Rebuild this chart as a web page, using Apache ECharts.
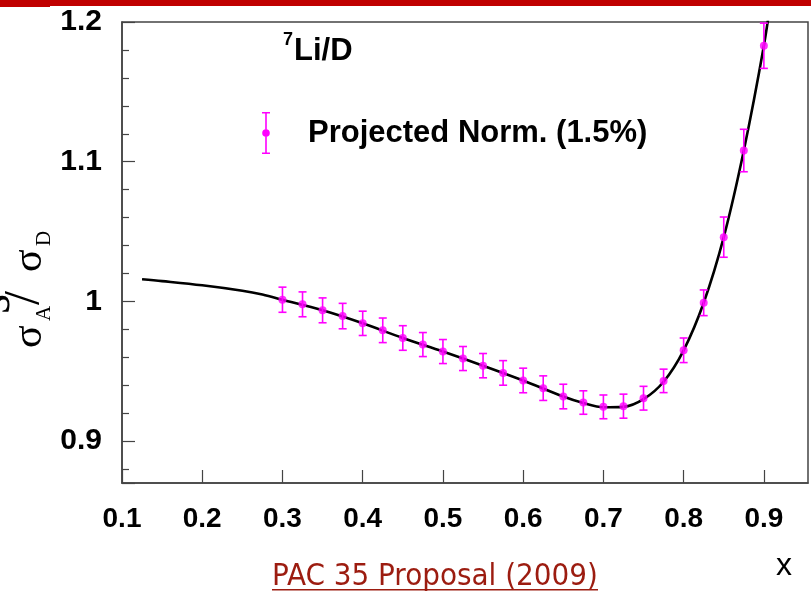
<!DOCTYPE html>
<html><head><meta charset="utf-8">
<script src="https://cdn.jsdelivr.net/npm/echarts@6/dist/echarts.min.js"></script>
<style>html,body{margin:0;padding:0;background:#fff}#c{width:811px;height:593px}</style>
</head><body><div id="c"></div>
<script>
// Projected data points (x, ratio, half error)
const pointX = [0.300,0.325,0.350,0.375,0.400,0.425,0.450,0.475,0.500,0.525,0.550,0.575,0.600,0.625,0.650,0.675,0.700,0.725,0.750,0.775,0.800,0.825,0.850,0.875,0.900];
const pointY = [1.0012,0.9979,0.9936,0.9895,0.9843,0.9793,0.9738,0.9691,0.9641,0.9591,0.9540,0.9488,0.9434,0.9379,0.9319,0.9276,0.9245,0.9250,0.9307,0.9431,0.9650,0.9990,1.0460,1.1080,1.1830];
const pointErr = [0.0090,0.0089,0.0089,0.0091,0.0087,0.0088,0.0088,0.0086,0.0086,0.0086,0.0087,0.0088,0.0088,0.0088,0.0088,0.0084,0.0085,0.0086,0.0085,0.0084,0.0088,0.0092,0.0144,0.0152,0.0162];
// Theory curve
const curveX = [0.125,0.150,0.200,0.250,0.275,0.300,0.350,0.400,0.450,0.500,0.550,0.600,0.650,0.675,0.700,0.725,0.750,0.775,0.800,0.825,0.850,0.875,0.900,0.910];
const curveY = [1.0158,1.0145,1.0115,1.0076,1.0049,1.0012,0.9936,0.9843,0.9738,0.9641,0.9540,0.9434,0.9319,0.9272,0.9242,0.9245,0.9300,0.9425,0.9650,0.9990,1.0460,1.1080,1.1830,1.2220];
const seriesName = 'Projected Norm. (1.5%)';
const yTitleParts = ['σ','A','/','σ','D'];

const chart = echarts.init(document.getElementById('c'), null, {renderer:'canvas'});
const magenta = '#ff00ff';
const axisColor = '#444';
const labelFont = 'Liberation Sans';

const errData = pointX.map((x,i)=>[x, pointY[i], pointErr[i]]);
const ptData = pointX.map((x,i)=>[x, pointY[i]]);
const curveData = curveX.map((x,i)=>[x, curveY[i]]);

const serifFont = '"Liberation Serif", "DejaVu Serif", serif';

chart.setOption({
  animation:false,
  backgroundColor:'#fff',
  grid:{left:122, top:22, right:3, bottom:110, show:true, borderColor:axisColor, borderWidth:1.5, backgroundColor:'transparent'},
  legend:{
    left:262, top:112, padding:0, orient:'vertical',
    itemWidth:8, itemHeight:42,
    data:[{name:seriesName, icon:'path://M0,0H8V1.6H0Z M0,40.4H8V42H0Z M3.2,0H4.8V42H3.2Z M0.2,21A3.8,3.8 0 1,1 7.8,21A3.8,3.8 0 1,1 0.2,21Z',
      itemStyle:{color:magenta, borderWidth:0}}],
    textStyle:{fontFamily:labelFont, fontWeight:'bold', fontSize:31, color:'#000', padding:[3,0,0,33]}
  },
  xAxis:{
    type:'value', min:0.1, max:0.955, interval:0.1,
    axisLine:{show:true, lineStyle:{color:axisColor, width:1.5}},
    axisTick:{show:true, inside:true, length:13, lineStyle:{color:axisColor, width:1.2}},
    minorTick:{show:false},
    splitLine:{show:false},
    axisLabel:{showMaxLabel:false, margin:22, fontFamily:labelFont, fontWeight:'bold', fontSize:28, color:'#000',
      formatter:v=>v.toFixed(1)}
  },
  yAxis:{
    type:'value', min:0.87, max:1.2, splitNumber:4, minInterval:0.1, maxInterval:0.1,
    axisLine:{show:true, lineStyle:{color:axisColor, width:1.5}},
    axisTick:{show:true, inside:true, length:13, lineStyle:{color:axisColor, width:1.2}},
    minorTick:{show:true, splitNumber:5, length:7, lineStyle:{color:axisColor, width:1.2}},
    splitLine:{show:false},
    axisLabel:{showMinLabel:false, margin:20, fontFamily:labelFont, fontWeight:'bold', fontSize:30, color:'#000'}
  },
  series:[
    {type:'line', name:'curve', data:curveData, showSymbol:false, smooth:0.35, clip:true,
      lineStyle:{color:'#000', width:2.6}, z:2, silent:true},
    {type:'custom', name:seriesName, data:errData, encode:{x:0,y:1}, z:3, clip:true,
      itemStyle:{color:magenta},
      renderItem:function(params, api){
        const x = api.value(0), y = api.value(1), e = api.value(2);
        const top = api.coord([x, y+e]);
        const bot = api.coord([x, y-e]);
        const hw = 4;
        const st = {stroke:magenta, lineWidth:1.6, fill:null};
        return {type:'group', children:[
          {type:'line', shape:{x1:top[0],y1:top[1],x2:bot[0],y2:bot[1]}, style:st},
          {type:'line', shape:{x1:top[0]-hw,y1:top[1],x2:top[0]+hw,y2:top[1]}, style:st},
          {type:'line', shape:{x1:bot[0]-hw,y1:bot[1],x2:bot[0]+hw,y2:bot[1]}, style:st}
        ]};
      }},
    {type:'scatter', name:seriesName, data:ptData, symbol:'circle', symbolSize:8,
      itemStyle:{color:magenta}, z:4}
  ],
  graphic:[
    {type:'rect', shape:{x:0,y:0,width:811,height:6}, style:{fill:'#c00000'}, silent:true},
    {type:'rect', shape:{x:0,y:0,width:50,height:7}, style:{fill:'#c00000'}, silent:true},
    {type:'text', left:283, top:31, style:{text:'7', font:'bold 18px "Liberation Sans"', fill:'#000'}},
    {type:'text', left:294, top:36, style:{text:'Li/D', font:'bold 31px "Liberation Sans"', fill:'#000'}},
    {type:'text', x:784, y:566, style:{text:'x', font:'32px "Liberation Sans"', fill:'#000', align:'center', verticalAlign:'middle'}},
    {type:'text', x:435, y:577, style:{text:'PAC 35 Proposal (2009)', font:'31px "DejaVu Sans Condensed", "DejaVu Sans"', fill:'#9c1c10', align:'center', verticalAlign:'middle'}},
    {type:'rect', shape:{x:272,y:589,width:326,height:1.6}, style:{fill:'#9c1c10'}, silent:true},
    {type:'group', x:34, y:348, rotation:Math.PI/2, children:[
      {type:'text', x:0, y:-4, style:{text:yTitleParts[0], font:'42px '+serifFont, fill:'#000', align:'left', verticalAlign:'middle'}},
      {type:'text', x:27, y:10.5, style:{text:yTitleParts[1], font:'21px '+serifFont, fill:'#000', align:'left', verticalAlign:'middle'}},
      {type:'text', x:43, y:-9, style:{text:yTitleParts[2], font:'50px '+serifFont, fill:'#000', align:'left', verticalAlign:'middle'}},
      {type:'text', x:76, y:-4, style:{text:yTitleParts[3], font:'42px '+serifFont, fill:'#000', align:'left', verticalAlign:'middle'}},
      {type:'text', x:102, y:10.5, style:{text:yTitleParts[4], font:'21px '+serifFont, fill:'#000', align:'left', verticalAlign:'middle'}},
      {type:'text', x:34, y:-13, style:{text:'s', font:'52px '+serifFont, fill:'#000', align:'left', verticalAlign:'bottom'}}
    ]}
  ]
});
</script>
</body></html>
